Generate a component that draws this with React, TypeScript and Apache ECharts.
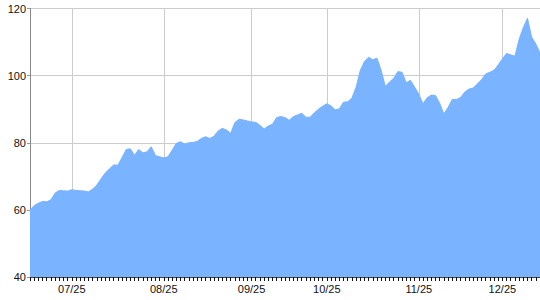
import React, { useEffect, useRef } from "react";
import * as echarts from "echarts";

// Trading days per month (year 2025)
const daysJun = [16, 17, 18, 19, 20, 23, 24, 25, 26, 27];
const daysJul = [1, 2, 3, 7, 8, 9, 10, 11, 14, 15, 16, 17, 18, 21, 22, 23, 24, 25, 28, 29, 30, 31];
const daysAug = [1, 4, 5, 6, 7, 8, 11, 12, 13, 14, 15, 18, 19, 20, 21, 22, 25, 26, 27, 28, 29];
const daysSep = [2, 3, 4, 5, 8, 9, 10, 11, 12, 15, 16, 17, 18, 19, 22, 23, 24, 25];
const daysOct = [1, 2, 3, 6, 7, 8, 9, 10, 13, 14, 15, 16, 17, 20, 21, 22, 23, 24, 27, 28, 29, 30];
const daysNov = [3, 4, 5, 6, 7, 10, 11, 12, 13, 14, 17, 18, 19, 20, 21, 24, 25, 26, 27, 28];
const daysDec = [1, 2, 3, 4, 5, 8, 9, 10, 11, 12];

const values = [
  60.0, 61.3, 62.0, 62.5, 62.4, 63.0, 65.0, 65.8, 65.7, 65.6,
  66.0, 65.8, 65.7, 65.6, 65.4, 66.2, 67.4, 69.3, 71.0, 72.2,
  73.4, 73.3, 75.5, 78.0, 78.2, 76.3, 78.0, 77.0, 77.3, 78.8,
  76.2, 75.8, 75.5, 75.8, 77.8, 79.8, 80.3, 79.6, 80.0, 80.1,
  80.4, 81.3, 81.8, 81.3, 81.9, 83.5, 84.3, 83.8, 82.8, 86.0,
  87.0, 86.8, 86.5, 86.2, 86.1, 85.2, 84.1, 85.0, 85.5, 87.5,
  87.8, 87.5, 86.7, 87.8, 88.3, 88.8, 87.6, 87.6, 88.9, 90.0,
  90.9, 91.6, 91.0, 89.8, 90.1, 92.1, 92.2, 93.3, 96.5, 101.5,
  104.2, 105.5, 104.7, 105.2, 101.6, 96.8, 98.1, 99.2, 101.2, 101.0,
  97.9, 98.6, 96.6, 94.5, 91.6, 93.4, 94.2, 94.1, 91.8, 88.6,
  90.5, 92.9, 92.9, 93.5, 95.1, 96.0, 96.3, 97.5, 98.8, 100.5,
  101.0, 101.6, 103.2, 105.0, 106.6, 106.2, 105.8, 110.8, 114.3, 117.1,
  111.5, 109.4, 106.8,
];

const yTicks = [40, 60, 80, 100, 120];

const monthDays: [string, number[]][] = [
  ["06", daysJun],
  ["07", daysJul],
  ["08", daysAug],
  ["09", daysSep],
  ["10", daysOct],
  ["11", daysNov],
  ["12", daysDec],
];

const categories: string[] = [];
const monthStart: boolean[] = [];
monthDays.forEach(([m, ds], mi) => {
  ds.forEach((d, di) => {
    categories.push(`2025-${m}-${String(d).padStart(2, "0")}`);
    monthStart.push(di === 0 && mi > 0);
  });
});

export default function App() {
  const ref = useRef<HTMLDivElement>(null);
  useEffect(() => {
    document.body.style.margin = "0";
    const chart = echarts.init(ref.current!, null, { renderer: "svg" });
    chart.setOption({
      animation: false,
      grid: { left: 30, right: 0, top: 8.5, bottom: 23, containLabel: false },
      xAxis: {
        type: "category",
        data: categories,
        boundaryGap: false,
        axisLine: { show: true, lineStyle: { color: "#444", width: 1 } },
        axisTick: { show: true, interval: 0, length: 4, lineStyle: { color: "#111" } },
        axisLabel: {
          interval: (i: number) => monthStart[i],
          formatter: (v: string) => `${v.slice(5, 7)}/${v.slice(2, 4)}`,
          color: "#111",
          fontFamily: "Liberation Sans, Arial, sans-serif",
          fontSize: 11,
          margin: 6,
        },
        splitLine: {
          show: true,
          interval: (i: number) => monthStart[i],
          lineStyle: { color: "#cccccc", width: 1 },
        },
      },
      yAxis: {
        type: "value",
        min: yTicks[0],
        max: yTicks[yTicks.length - 1],
        interval: 20,
        axisLine: { show: true, lineStyle: { color: "#888", width: 1 } },
        axisTick: { show: true, length: 3, lineStyle: { color: "#999" } },
        axisLabel: {
          color: "#111",
          fontFamily: "Liberation Sans, Arial, sans-serif",
          fontSize: 11,
          margin: 4,
        },
        splitLine: { show: true, lineStyle: { color: "#cccccc", width: 1 } },
      },
      series: [
        {
          type: "line",
          data: values,
          showSymbol: false,
          symbol: "none",
          lineStyle: { width: 1, color: "#7ab3ff" },
          itemStyle: { color: "#7ab3ff" },
          areaStyle: { color: "#7ab3ff", opacity: 1 },
        },
      ],
    });
    return () => chart.dispose();
  }, []);
  return <div ref={ref} style={{ width: 540, height: 300 }} />;
}
